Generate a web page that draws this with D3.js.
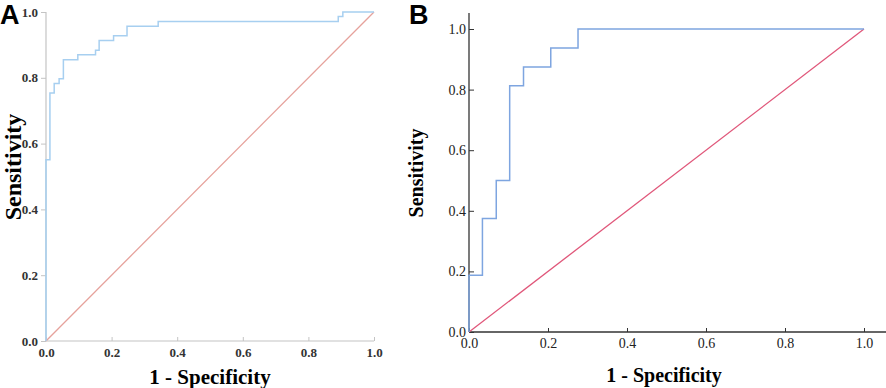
<!DOCTYPE html>
<html lang="en">
<head>
<meta charset="utf-8">
<title>ROC curves</title>
<script src="https://cdn.jsdelivr.net/npm/d3@7"></script>
<style>
  body { margin: 0; padding: 0; background: #fff; }
  .panel-label { font-family: "Liberation Sans", Arial, sans-serif; font-weight: bold; font-size: 27px; }
  .axis-title { font-family: "Liberation Serif", "Times New Roman", serif; font-weight: bold; }
</style>
</head>
<body>
<svg id="chart" width="886" height="388"></svg>
<script>
// tick values shared by both panels
var ticks = [0, 0.2, 0.4, 0.6, 0.8, 1.0];

// panel A ROC corners
var fprA = [0, 0, 0.012, 0.012, 0.025, 0.025, 0.040, 0.040, 0.053, 0.053, 0.097, 0.097, 0.151, 0.151,
            0.162, 0.162, 0.206, 0.206, 0.247, 0.247, 0.342, 0.342, 0.891, 0.891, 0.905, 0.905, 1.0];
var tprA = [0, 0.551, 0.551, 0.754, 0.754, 0.783, 0.783, 0.797, 0.797, 0.855, 0.855, 0.870, 0.870, 0.884,
            0.884, 0.913, 0.913, 0.928, 0.928, 0.957, 0.957, 0.971, 0.971, 0.986, 0.986, 1.0, 1.0];

// panel B ROC corners
var fprB = [0, 0, 0.034, 0.034, 0.069, 0.069, 0.103, 0.103, 0.138, 0.138, 0.207, 0.207, 0.276, 0.276, 1.0];
var tprB = [0, 0.1875, 0.1875, 0.375, 0.375, 0.5, 0.5, 0.8125, 0.8125, 0.875, 0.875, 0.9375, 0.9375, 1.0, 1.0];

var svg = d3.select("#chart");

function drawPanel(o) {
    var x = d3.scaleLinear().domain([0, 1]).range([o.x0, o.x1]);
    var y = d3.scaleLinear().domain([0, 1]).range([o.y0, o.y1]);
    var g = svg.append("g");

    // y axis
    var yAxis = d3.axisLeft(y).tickValues(ticks).tickFormat(d3.format(".1f"))
        .tickSizeInner(o.yTick).tickSizeOuter(0).tickPadding(o.yPad);
    var ya = g.append("g").attr("transform", "translate(" + o.x0 + ",0)").call(yAxis);
    ya.select(".domain").remove();
    ya.append("line").attr("x1", 0).attr("x2", 0).attr("y1", o.y0).attr("y2", o.yTop)
        .attr("stroke", o.axisColor).attr("stroke-width", o.axisWidth);

    // x axis
    var xAxis = d3.axisBottom(x).tickValues(ticks).tickFormat(d3.format(".1f"))
        .tickSizeInner(-4).tickSizeOuter(0).tickPadding(o.xPad);
    var xa = g.append("g").attr("transform", "translate(0," + o.y0 + ")").call(xAxis);
    xa.select(".domain").remove();
    xa.append("line").attr("x1", 0).attr("x2", o.xRight - o.x0).attr("transform", "translate(" + o.x0 + ",0)")
        .attr("stroke", o.axisColor).attr("stroke-width", o.axisWidth);

    g.selectAll(".tick line").attr("stroke", o.axisColor);
    g.selectAll(".tick text")
        .attr("fill", o.labelColor)
        .style("font-family", "'Liberation Serif', 'Times New Roman', serif")
        .style("font-size", o.labelSize + "px")
        .style("font-weight", o.labelWeight);

    // reference diagonal
    g.append("path")
        .datum([0, 1])
        .attr("d", d3.line().x(function(d) { return x(d); }).y(function(d) { return y(d); }))
        .attr("fill", "none").attr("stroke", o.diagColor).attr("stroke-width", 1.3);

    // ROC curve
    var pts = o.fpr.map(function(f, i) { return [f, o.tpr[i]]; });
    g.append("path")
        .datum(pts)
        .attr("d", d3.line().x(function(d) { return x(d[0]); }).y(function(d) { return y(d[1]); }))
        .attr("fill", "none").attr("stroke", o.curveColor).attr("stroke-width", 1.5);

    // titles
    g.append("text").attr("class", "axis-title")
        .attr("x", o.xTitleX).attr("y", o.xTitleY).attr("text-anchor", "middle")
        .style("font-size", o.titleSize + "px").text("1 - Specificity");
    g.append("text").attr("class", "axis-title")
        .attr("transform", "translate(" + o.yTitleX + "," + o.yTitleY + ") rotate(-90)")
        .attr("text-anchor", "middle")
        .style("font-size", o.yTitleSize + "px").text("Sensitivity");
    g.append("text").attr("class", "panel-label")
        .attr("x", o.labX).attr("y", o.labY).text(o.label);
}

drawPanel({
    label: "A", labX: 0, labY: 24,
    x0: 46, x1: 374, y0: 341, y1: 12, yTop: 12, xRight: 374,
    fpr: fprA, tpr: tprA,
    axisColor: "#c4c4c4", axisWidth: 1.2, labelColor: "#333",
    labelSize: 13, labelWeight: "bold", yTick: 5, yPad: 3, xPad: 7,
    curveColor: "#a7cff0", diagColor: "#e6a29c",
    titleSize: 21, yTitleSize: 24, xTitleX: 210, xTitleY: 384, yTitleX: 21, yTitleY: 167
});

drawPanel({
    label: "B", labX: 409, labY: 24,
    x0: 469, x1: 864, y0: 332, y1: 29, yTop: 13, xRight: 886,
    fpr: fprB, tpr: tprB,
    axisColor: "#333", axisWidth: 1.3, labelColor: "#222",
    labelSize: 14, labelWeight: "normal", yTick: -5, yPad: 3, xPad: 6,
    curveColor: "#7ea5e0", diagColor: "#e0577a",
    titleSize: 20, yTitleSize: 20, xTitleX: 664, xTitleY: 382, yTitleX: 423, yTitleY: 173
});
</script>
</body>
</html>
